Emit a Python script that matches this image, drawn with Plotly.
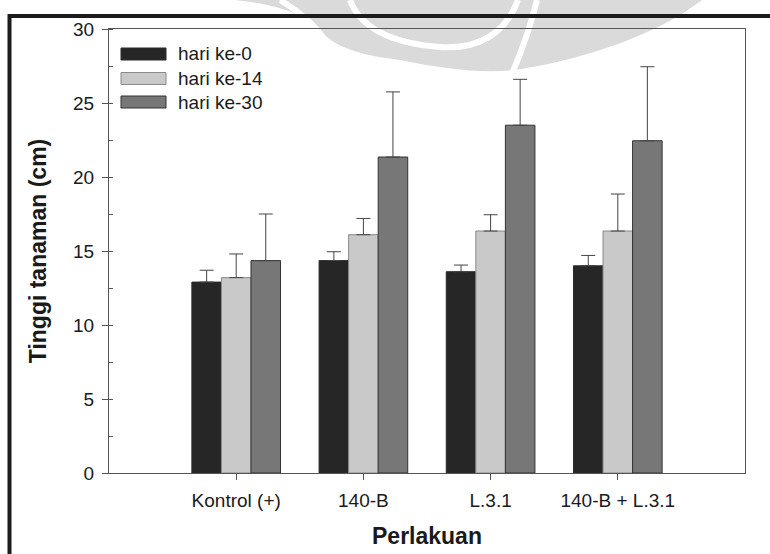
import plotly.graph_objects as go

# ---------------- data ----------------
categories = ["Kontrol (+)", "140-B", "L.3.1", "140-B + L.3.1"]
series_names = ["hari ke-0", "hari ke-14", "hari ke-30"]
day0 = [12.9, 14.35, 13.6, 14.0]
day14 = [13.2, 16.1, 16.35, 16.35]
day30 = [14.35, 21.35, 23.5, 22.45]
err0 = [0.8, 0.6, 0.45, 0.7]
err14 = [1.6, 1.1, 1.1, 2.5]
err30 = [3.15, 4.4, 3.1, 5.0]
y_ticks = [0, 5, 10, 15, 20, 25, 30]

colors = ["#262626", "#c9c9c9", "#777777"]
outlines = ["#2a2a2a", "#8a8a8a", "#333333"]
FONT = "Arial, Liberation Sans, sans-serif"

# plot area in pixels
W, H = 770, 554
L, R, T, B = 109, 745, 29, 473


def px(x):
    return (x - L) / (R - L)


def py(y):
    return (B - y) / (B - T)


fig = go.Figure()
for name, vals, errs, col, oc in zip(series_names, [day0, day14, day30],
                                     [err0, err14, err30], colors, outlines):
    fig.add_trace(go.Bar(
        x=categories, y=vals, name=name,
        marker=dict(color=col, line=dict(color=oc, width=1)),
        error_y=dict(type="data", array=errs, arrayminus=[0] * len(errs),
                     symmetric=False, color="#444444", thickness=1, width=7),
        showlegend=False,
    ))

shapes = []


def pth(points, close=True):
    s = ""
    for p in points:
        cmd = p[0]
        nums = p[1:]
        conv = []
        for i in range(0, len(nums), 2):
            conv.append(f"{px(nums[i]):.4f},{py(nums[i+1]):.4f}")
        s += cmd + " ".join(conv) + " "
    s = s.strip()
    return s + " Z" if close else s

# ---- faint watermark (approximation) ----
wm = "#dadada"
shapes.append(dict(type="path", xref="paper", yref="paper", layer="below",
                   fillcolor=wm, line=dict(width=0),
                   path=pth([("M", 235, 0), ("C", 280, 5, 305, 15, 320, 30),
                             ("C", 335, 48, 360, 55, 400, 60),
                             ("C", 440, 68, 480, 74, 515, 70),
                             ("C", 570, 62, 650, 40, 702, 0)])))
shapes.append(dict(type="path", xref="paper", yref="paper", layer="below",
                   fillcolor="rgba(0,0,0,0)", line=dict(width=6, color="white"),
                   path=pth([("M", 537, 0), ("C", 531, 25, 522, 50, 512, 74)], close=False)))
shapes.append(dict(type="path", xref="paper", yref="paper", layer="below",
                   fillcolor="rgba(0,0,0,0)", line=dict(width=6, color="white"),
                   path=pth([("M", 350, 0), ("C", 362, 32, 400, 44, 440, 47),
                             ("C", 480, 50, 506, 32, 518, 0)], close=False)))
shapes.append(dict(type="path", xref="paper", yref="paper", layer="below",
                   fillcolor="rgba(0,0,0,0)", line=dict(width=6, color="white"),
                   path=pth([("M", 280, 0), ("C", 300, 12, 315, 25, 325, 40)], close=False)))

# ---- page frame (thick lines at top and left) ----
shapes.append(dict(type="line", xref="paper", yref="paper", layer="above",
                   x0=px(8), x1=px(770), y0=py(16), y1=py(16),
                   line=dict(color="#1c1c1c", width=4)))
shapes.append(dict(type="line", xref="paper", yref="paper", layer="above",
                   x0=px(9.5), x1=px(9.5), y0=py(14), y1=py(554),
                   line=dict(color="#1c1c1c", width=4)))

# ---- legend (drawn to match the wide swatches) ----
annotations = []
leg_y = [54, 78.5, 102]
for name, col, oc, yy in zip(series_names, colors, outlines, leg_y):
    shapes.append(dict(type="rect", xref="paper", yref="paper", layer="above",
                       x0=px(121), x1=px(166), y0=py(yy - 6), y1=py(yy + 6),
                       fillcolor=col, line=dict(color=oc, width=1)))
    annotations.append(dict(xref="paper", yref="paper", x=px(176), y=py(yy),
                            xanchor="left", yanchor="middle", showarrow=False,
                            text=name, font=dict(family=FONT, size=19, color="#1a1a1a")))

fig.update_layout(
    width=W, height=H,
    margin=dict(l=L, r=W - R, t=T, b=H - B, pad=0, autoexpand=False),
    paper_bgcolor="white", plot_bgcolor="white",
    barmode="group", bargap=0.303, bargroupgap=0,
    font=dict(family=FONT, size=19, color="#1a1a1a"),
    shapes=shapes, annotations=annotations,
    showlegend=False,
)
fig.update_xaxes(
    range=[-1, 4], showgrid=False, zeroline=False, automargin=False,
    showline=True, linecolor="#555555", linewidth=1, mirror=True,
    ticks="outside", ticklen=6, tickcolor="#555555", tickwidth=1,
    ticklabelstandoff=4,
    tickfont=dict(family=FONT, size=19, color="#1a1a1a"),
    title=dict(text="<b>Perlakuan</b>", font=dict(family=FONT, size=23, color="#1a1a1a"),
               standoff=18),
)
fig.update_yaxes(
    range=[0, 30], tickvals=y_ticks, showgrid=False, zeroline=False, automargin=False,
    showline=True, linecolor="#555555", linewidth=1, mirror=True,
    ticks="outside", ticklen=6, tickcolor="#555555", tickwidth=1,
    ticklabelstandoff=4,
    minor=dict(dtick=2.5, ticks="inside", ticklen=4, tickcolor="#555555"),
    tickfont=dict(family=FONT, size=19, color="#1a1a1a"),
    title=dict(text="<b>Tinggi tanaman (cm)</b>", font=dict(family=FONT, size=23, color="#1a1a1a"),
               standoff=20),
)

fig.write_html("out.html")
